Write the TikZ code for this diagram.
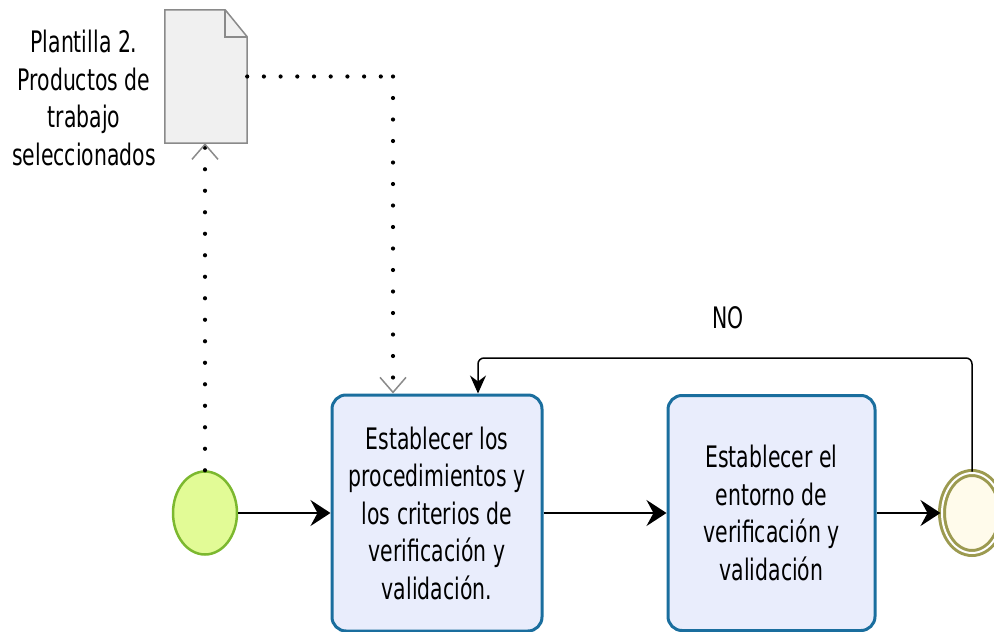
\documentclass[tikz,border=0pt]{standalone}
\usepackage{fontspec}
\setmainfont[FakeStretch=0.69]{DejaVu Sans}
\usetikzlibrary{arrows.meta,shapes.geometric}
\definecolor{boxblue}{HTML}{1A6E9E}
\definecolor{boxfill}{HTML}{E9EDFC}
\definecolor{startgreen}{HTML}{7CB82F}
\definecolor{startfill}{HTML}{E2FB96}
\definecolor{endolive}{HTML}{9C9A50}
\definecolor{endfill}{HTML}{FFFBEB}
\definecolor{docfill}{HTML}{F0F0F0}
\definecolor{docgray}{HTML}{8A8A8A}
\tikzset{
  txt/.style={font=\fontsize{29.6}{37.5}\selectfont, align=center, text=black},
  task/.style={rectangle, rounded corners=14pt, draw=boxblue, line width=3pt, fill=boxfill,
    inner sep=0pt, txt},
  startev/.style={ellipse, draw=startgreen, line width=2.5pt, fill=startfill,
    minimum width=64pt, minimum height=83pt, inner sep=0pt},
  endev/.style={ellipse, draw=endolive, line width=3pt, double=white, double distance=2pt,
    fill=endfill, minimum width=60pt, minimum height=80pt, inner sep=0pt},
  flow/.style={line width=2pt, -{Stealth[length=20pt, width=26pt, inset=7pt]}},
  loopflow/.style={line width=1.5pt, rounded corners=6pt, -{Stealth[length=18pt, width=16pt, inset=6pt]}},
  assoc/.style={line width=4.2pt, line cap=round, dash pattern=on 0pt off #1,
    -{Straight Barb[length=15pt, width=26pt, line width=1.5pt, color=docgray]}},
  assoc/.default=19pt,
  docshape/.style={draw=docgray, line width=1.5pt, fill=docfill, line join=miter}
}
\begin{document}
\begin{tikzpicture}[x=1pt, y=-1pt]
\useasboundingbox (0,0) rectangle (994,632);

% document artifact
\node[minimum width=82pt, minimum height=133pt, inner sep=0pt] (doc) at (206,76.5) {};
\draw[docshape] (doc.north west) -- ([xshift=-22pt]doc.north east) -- ([yshift=-27pt]doc.north east)
  -- (doc.south east) -- (doc.south west) -- cycle;
\draw[docshape, fill=none] ([xshift=-22pt]doc.north east) -- ([xshift=-22pt, yshift=-27pt]doc.north east)
  -- ([yshift=-27pt]doc.north east);
\node[txt] (doclabel) at (84,98) {Plantilla 2.\\Productos de\\trabajo\\seleccionados};

% events and tasks
\node[startev] (start) at (205,513) {};
\node[task, minimum width=210pt, minimum height=236pt] (box1) at (437,513)
  {Establecer los\\procedimientos y\\los criterios de\\verificación y\\validación.};
\node[task, minimum width=207pt, minimum height=235pt] (box2) at (771.5,513)
  {Establecer el\\entorno de\\verificación y\\validación};
\node[endev] (end) at (972,513) {};

% sequence flows
\draw[flow] (start.east) -- (box1.west);
\draw[flow] (box1.east) -- (box2.west);
\draw[flow] (box2.east) -- (end.west);

% loop back
\coordinate (loopy) at (0,358);
\coordinate (fb) at ([xshift=41pt]box1.north);
\draw[loopflow] (end.north) |- (fb |- loopy) -- (fb);
\node[txt] (nolabel) at (728,318) {NO};

% associations
\draw[assoc=21.5pt] (start.north) -- (start.north |- doc.south);
\coordinate (in1) at ([xshift=-44pt]box1.north);
\coordinate (bend) at (in1 |- doc.east);
\draw[assoc=16.7pt, -] (doc.east) -- (bend);
\draw[assoc=21.5pt] (bend) -- (in1);
\end{tikzpicture}
\end{document}
